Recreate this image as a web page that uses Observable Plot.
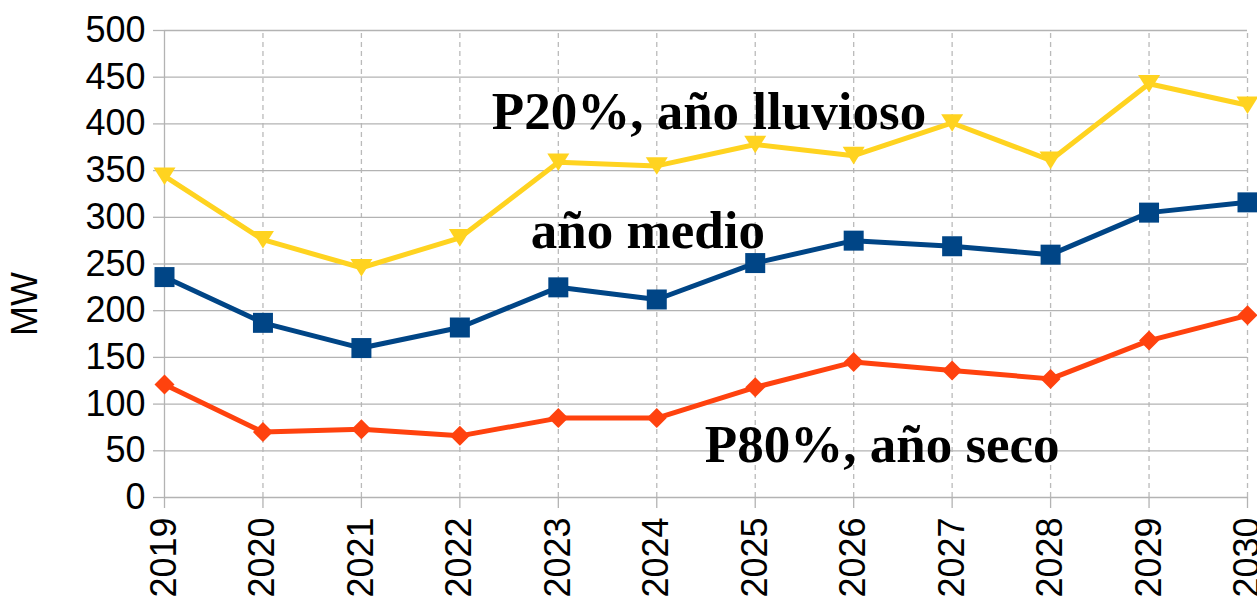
<!DOCTYPE html>
<html>
<head>
<meta charset="utf-8">
<script src="https://cdn.jsdelivr.net/npm/d3@7"></script>
<script src="https://cdn.jsdelivr.net/npm/@observablehq/plot@0.6"></script>
<style>
  html, body { margin: 0; padding: 0; background: #fff; }
  #chart svg { display: block; }
</style>
</head>
<body>
<div id="chart"></div>
<script>
const years = [2019, 2020, 2021, 2022, 2023, 2024, 2025, 2026, 2027, 2028, 2029, 2030];
const p20 = [344, 276, 246, 278, 359, 355, 378, 366, 401, 361, 443, 420];
const medio = [236, 187, 160, 182, 225, 212, 251, 275, 269, 260, 305, 316];
const p80 = [121, 70, 73, 66, 85, 85, 118, 145, 136, 127, 168, 195];
const yTicks = [0, 50, 100, 150, 200, 250, 300, 350, 400, 450, 500];
const yLabel = "MW";
const annotations = [
  {text: "P20%, año lluvioso", year: 2024.53, value: 395},
  {text: "año medio", year: 2023.91, value: 267},
  {text: "P80%, año seco", year: 2026.29, value: 37.5}
];

const rows = (vals) => years.map((y, i) => ({year: y, value: vals[i]}));

const triDown = {draw(ctx, size) { const r = Math.sqrt(size / Math.PI); ctx.moveTo(-r, -r * 0.8); ctx.lineTo(r, -r * 0.8); ctx.lineTo(0, r * 0.8); ctx.closePath(); }};
const square = {draw(ctx, size) { const r = Math.sqrt(size / Math.PI); ctx.moveTo(-r, -r); ctx.lineTo(r, -r); ctx.lineTo(r, r); ctx.lineTo(-r, r); ctx.closePath(); }};
const diamond = {draw(ctx, size) { const r = Math.sqrt(size / Math.PI); ctx.moveTo(0, -r); ctx.lineTo(r, 0); ctx.lineTo(0, r); ctx.lineTo(-r, 0); ctx.closePath(); }};

const gray = "#b3b3b3";
const colors = {p20: "#ffd320", medio: "#004586", p80: "#ff420e"};

const chart = Plot.plot({
  width: 1257,
  height: 600,
  marginLeft: 164,
  marginRight: 10,
  marginTop: 30,
  marginBottom: 103,
  style: {fontFamily: "'Liberation Sans', Arial, sans-serif", background: "#fff", color: "#000"},
  x: {type: "linear", domain: [years[0], years[years.length - 1]]},
  y: {domain: [0, 500]},
  marks: [
    Plot.gridY(yTicks, {stroke: gray, strokeOpacity: 1, strokeWidth: 1.3}),
    Plot.ruleX(years.slice(1), {y1: 0, y2: 500, stroke: gray, strokeOpacity: 0.9, strokeWidth: 1.3, strokeDasharray: "5,4"}),
    Plot.ruleX([years[0]], {y1: 0, y2: 500, stroke: gray, strokeWidth: 1.3}),
    Plot.axisY({ticks: yTicks, tickSize: 11, tickPadding: 8, fontSize: 36, stroke: gray, strokeWidth: 1.3, label: null}),
    Plot.axisX({ticks: years, tickFormat: d => String(d), tickRotate: -90, tickSize: 11, tickPadding: 9, fontSize: 36, stroke: gray, strokeWidth: 1.3, label: null}),
    Plot.text([yLabel], {frameAnchor: "left", dx: -139, dy: 72, rotate: -90, fontSize: 36, fill: "#000"}),
    Plot.line(rows(p80), {x: "year", y: "value", stroke: colors.p80, strokeWidth: 5, strokeLinejoin: "round"}),
    Plot.dot(rows(p80), {x: "year", y: "value", symbol: diamond, r: 10, fill: colors.p80, stroke: "none"}),
    Plot.line(rows(medio), {x: "year", y: "value", stroke: colors.medio, strokeWidth: 5, strokeLinejoin: "round"}),
    Plot.dot(rows(medio), {x: "year", y: "value", symbol: square, r: 10, fill: colors.medio, stroke: "none"}),
    Plot.line(rows(p20), {x: "year", y: "value", stroke: colors.p20, strokeWidth: 5, strokeLinejoin: "round"}),
    Plot.dot(rows(p20), {x: "year", y: "value", symbol: triDown, r: 11, fill: colors.p20, stroke: "none"}),
    Plot.text(annotations, {x: "year", y: "value", text: "text", textAnchor: "middle", lineAnchor: "bottom", fontSize: 53, fontWeight: "bold", fontFamily: "'Liberation Serif', 'Times New Roman', serif", fill: "#000"})
  ]
});
document.getElementById("chart").appendChild(chart);
</script>
</body>
</html>
